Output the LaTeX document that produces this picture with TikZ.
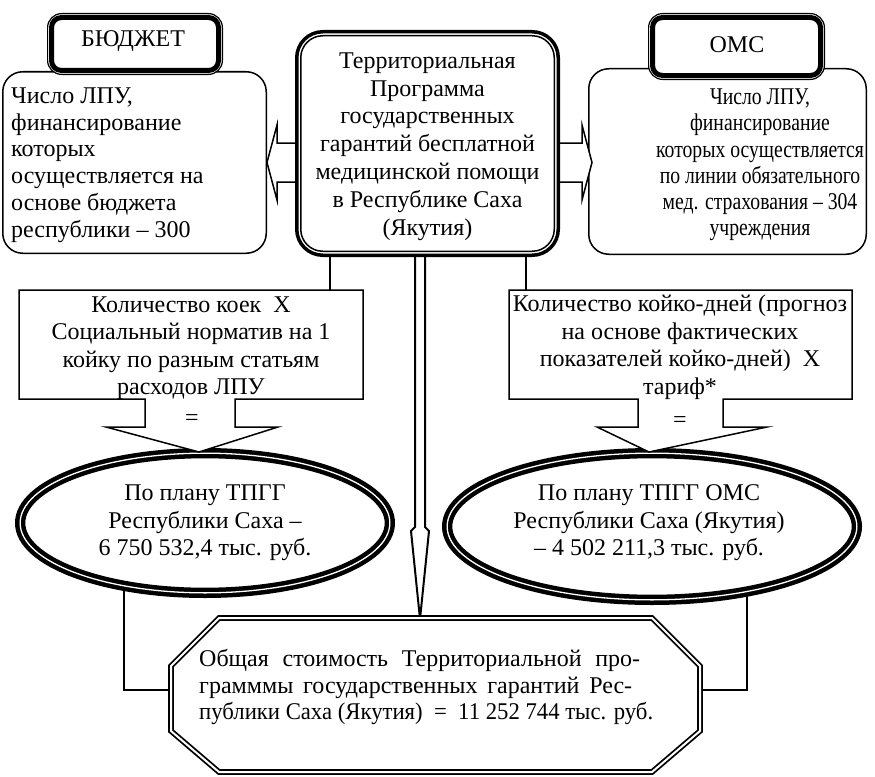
\documentclass[tikz,border=0pt]{standalone}
\usepackage{fontspec}
\usepackage{graphicx}
\setmainfont{Liberation Serif}
\newfontfamily\condfont[FakeStretch=0.82]{Liberation Serif}
\usetikzlibrary{shapes.geometric,calc}
\pgfdeclarelayer{bg}
\pgfsetlayers{bg,main}
\tikzset{
  txt/.style={font=\fontsize{24}{27.5}\selectfont, align=center, inner sep=0pt},
  ln/.style={line width=1.5pt},
  sidebox/.style={draw, line width=1.5pt, fill=white, rounded corners=20pt, inner sep=0pt},
  ell/.style={ellipse, draw, fill=white, line width=4.5pt, double=white, double distance=1.3pt, inner sep=0pt},
  headbox/.style={draw, line width=5pt, fill=white, rounded corners=10pt, inner sep=0pt},
  headouter/.style={line width=1.2pt, fill=white, rounded corners=14pt},
}
\begin{document}
\begin{tikzpicture}[x=1pt,y=-1pt]
\useasboundingbox (0,0) rectangle (875,776);
\coordinate (cL) at (330,0);
\coordinate (cR) at (526,0);
\coordinate (jL) at (124,690);
\coordinate (jR) at (747,690);

% side boxes
\node[sidebox, minimum width=263.5pt, minimum height=181.5pt] (lbox) at (134.5,162.5) {};
\node[sidebox, minimum width=277.5pt, minimum height=185.5pt] (rbox) at (727.5,161.5) {};
\node[txt, font=\fontsize{24}{26.8}\selectfont, align=left, anchor=west] (lboxtxt) at (11,165) {Число ЛПУ,\\финансирование\\которых\\осуществляется на\\основе бюджета\\республики – 300};
\node[txt, font=\condfont\fontsize{24}{26.2}\selectfont] (rboxtxt) at (760,165) {Число ЛПУ,\\финансирование\\которых осуществляется\\по линии обязательного\\мед. страхования – 304\\учреждения};

% block arrows
\draw[ln, fill=white] (300,143) -- (277,143) -- (277,125) -- (267,162.5) -- (277,200) -- (277,182) -- (300,182);
\draw[ln, fill=white] (556,143) -- (582,143) -- (582,125) -- (592,162.5) -- (582,200) -- (582,182) -- (556,182);

% central box
\draw[line width=3.5pt, fill=white, rounded corners=26pt] (296.75,31.75) rectangle (558.25,255.25);
\node[draw, line width=1.5pt, fill=white, rounded corners=22pt, minimum width=253.5pt, minimum height=215.5pt, inner sep=0pt] (prog) at (427.5,143.5) {};
\node[txt, font=\fontsize{24}{27.8}\selectfont] (progtxt) at (427.5,146.5) {Территориальная\\Программа\\государственных\\гарантий бесплатной\\медицинской помощи\\в Республике Саха\\(Якутия)};

% head boxes
\draw[headouter] (47.6,13.6) rectangle (222.4,74.4);
\node[headbox, minimum width=167pt, minimum height=53pt] (bud) at (135,44) {};
\node[txt] (budtxt) at (133,41) {БЮДЖЕТ};
\draw[headouter] (648.6,13.6) rectangle (824.4,79.4);
\node[headbox, minimum width=168pt, minimum height=58pt] (oms) at (736.5,46.5) {};
\node[txt] (omstxt) at (737,45) {ОМС};

% ellipses
\node[ell, minimum width=369.7pt, minimum height=139.7pt] (lell) at (205,523) {};
\node[txt] (lelltxt) at (205,523) {По плану ТПГГ\\Республики Саха –\\6 750 532,4 тыс. руб.};
\node[ell, minimum width=409.7pt, minimum height=146.7pt] (rell) at (652,526.5) {};
\node[txt] (relltxt) at (649,523) {По плану ТПГГ ОМС\\Республики Саха (Якутия)\\– 4 502 211,3 тыс. руб.};

% callouts
\draw[ln, fill=white] (19,290) -- (363,290) -- (363,399) -- (235,399) -- (235,427) -- (278,427) -- (199,452) -- (106,427) -- (145,427) -- (145,399) -- (19,399) -- cycle;
\node[txt] (lctxt) at (191,348) {Количество коек~ Х\\Социальный норматив на 1\\койку по разным статьям\\расходов ЛПУ};
\node[txt] (lceq) at (192,420) {=};
\draw[ln, fill=white] (509,290) -- (852,290) -- (852,399) -- (723,399) -- (723,427) -- (767,427) -- (649,452) -- (597,427) -- (638,427) -- (638,399) -- (509,399) -- cycle;
\node[txt] (rctxt) at (680,347) {Количество койко-дней (прогноз\\на основе фактических\\показателей койко-дней)~ Х\\тариф*};
\node[txt] (rceq) at (680,422) {=};

% octagon
\draw[line width=1.8pt, double=white, double distance=2pt, fill=white] (219,618) -- (652,618) -- (700,666) -- (700,731) -- (652,772) -- (219,772) -- (171,731) -- (171,666) -- cycle;
\node[txt, font=\fontsize{24}{26.5}\selectfont, align=left, anchor=west] (total) at (199,687) {\makebox[441pt][s]{Общая стоимость Территориальной про-}\\\makebox[433pt][s]{грамммы государственных гарантий Рес-}\\\resizebox{454pt}{\height}{публики Саха (Якутия)~ =~ 11 252 744 тыс. руб.}};

% connectors
\begin{pgfonlayer}{bg}
\draw[ln] (prog.south -| cL) -- (lctxt.north -| cL);
\draw[ln] (prog.south -| cR) -- (rctxt.north -| cR);
\draw[line width=2pt, fill=white] (415,250) -- (415,527) -- (411,531) -- (420,619) -- (429,531) -- (425,527) -- (425,250);
\draw[ln] (lell.center -| jL) -- (jL) -- (total.west |- jL);
\draw[ln] (rell.center -| jR) -- (jR) -- (total.east |- jR);
\end{pgfonlayer}
\end{tikzpicture}
\end{document}
